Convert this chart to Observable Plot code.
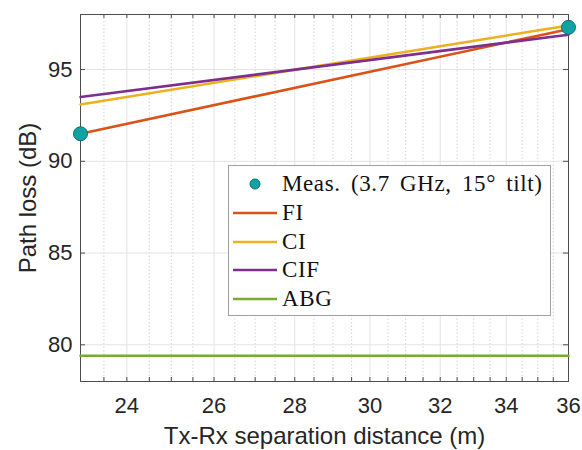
<!DOCTYPE html>
<html>
<head>
<meta charset="utf-8">
<script src="https://cdn.jsdelivr.net/npm/d3@7"></script>
<script src="https://cdn.jsdelivr.net/npm/@observablehq/plot@0.6"></script>
<style>
  html, body { margin: 0; padding: 0; background: #fff; }
  #wrap { position: relative; width: 582px; height: 450px; }
  #legend { position: absolute; left: 228px; top: 165px; width: 321px; height: 149px;
    background: #fff; border: 1px solid #a0a0a0; font-family: "Liberation Serif", serif;
    font-size: 23px; letter-spacing: 0.6px; word-spacing: 4px; color: #111; }
  .row { position: absolute; left: 0; height: 29px; display: flex; align-items: center; white-space: nowrap; }
  .row svg { margin-left: 4px; margin-right: 5px; }
</style>
</head>
<body>
<div id="wrap"></div>
<script>
// ---- data ----
const distance = [23, 36];
const measured = [91.5, 97.3];
const fiLoss = [91.5, 97.2];
const ciLoss = [93.1, 97.4];
const cifLoss = [93.5, 96.9];
const abgLoss = [79.4, 79.4];
const seriesNames = ["FI", "CI", "CIF", "ABG"];
const seriesColors = ["#D95319", "#EDB120", "#7E2F8E", "#77AC30"];
const measLabel = "Meas. (3.7 GHz, 15° tilt)";
const xTicks = [24, 26, 28, 30, 32, 34, 36];
const xMinor = [23.5, 24, 24.5, 25, 25.5, 26, 26.5, 27, 27.5, 28, 28.5, 29, 29.5, 30, 30.5, 31, 31.5, 32, 32.5, 33, 33.5, 34, 34.5, 35, 35.5];
const yTicks = [80, 85, 90, 95];

const seriesValues = [fiLoss, ciLoss, cifLoss, abgLoss];
const lineData = seriesNames.flatMap((name, i) =>
  distance.map((d, j) => ({name, d, loss: seriesValues[i][j]})));
const measData = distance.map((d, j) => ({d, loss: measured[j]}));

const axisColor = "#4d4d4d";
const textColor = "#262626";
const font = "'Liberation Sans', Arial, sans-serif";

const chart = Plot.plot({
  width: 582,
  height: 450,
  marginLeft: 80,
  marginRight: 14,
  marginTop: 14,
  marginBottom: 69,
  style: {fontFamily: font, color: textColor, background: "#fff"},
  x: {type: "log", domain: [23, 36]},
  y: {domain: [78, 98]},
  color: {domain: seriesNames, range: seriesColors},
  marks: [
    // minor dotted grid
    Plot.ruleX(xMinor.filter(v => !xTicks.includes(v)), {stroke: "#c8c8c8", strokeWidth: 0.8, strokeDasharray: "1.5,2"}),
    // major grid
    Plot.ruleX(xTicks, {stroke: "#e3e3e3", strokeWidth: 1}),
    Plot.ruleY(yTicks, {stroke: "#e3e3e3", strokeWidth: 1}),
    // inward ticks, bottom & top
    Plot.tickX(xMinor, {stroke: axisColor, insetTop: 367 - 4, strokeWidth: 1}),
    Plot.tickX(xMinor, {stroke: axisColor, insetBottom: 367 - 4, strokeWidth: 1}),
    Plot.tickY(yTicks, {stroke: axisColor, insetRight: 488 - 5, strokeWidth: 1}),
    Plot.tickY(yTicks, {stroke: axisColor, insetLeft: 488 - 5, strokeWidth: 1}),
    Plot.frame({stroke: axisColor, strokeWidth: 1}),
    // lines
    Plot.line(lineData, {x: "d", y: "loss", z: "name", stroke: "name", strokeWidth: 2.6}),
    Plot.dot(measData, {x: "d", y: "loss", r: 7, fill: "#10A3A3", stroke: "#0b7070", strokeWidth: 1}),
    // axes
    Plot.axisX({ticks: xTicks, tickSize: 0, tickPadding: 16, fontSize: 22, label: "Tx-Rx separation distance (m)", labelAnchor: "center", labelOffset: 62, labelArrow: "none", tickFormat: d => String(d)}),
    Plot.axisY({ticks: yTicks, tickSize: 0, tickPadding: 8, fontSize: 22, label: "Path loss (dB)", labelAnchor: "center", labelOffset: 62, labelArrow: "none"})
  ]
});
chart.querySelectorAll("g[aria-label='x-axis label'] text, g[aria-label='y-axis label'] text").forEach(t => t.setAttribute("font-size", "24"));
const wrap = document.getElementById("wrap");
wrap.appendChild(chart);

// legend
const legend = document.createElement("div");
legend.id = "legend";
const rowY = [3, 32, 61, 89, 118];
function addRow(top, symbol, label) {
  const row = document.createElement("div");
  row.className = "row";
  row.style.top = top + "px";
  row.innerHTML = `<svg width="44" height="12">${symbol}</svg><span>${label}</span>`;
  legend.appendChild(row);
}
addRow(rowY[0], `<circle cx="22" cy="6" r="5" fill="#10A3A3" stroke="#0b7070"/>`, measLabel);
seriesNames.forEach((n, i) => addRow(rowY[i + 1], `<line x1="0" x2="44" y1="6" y2="6" stroke="${seriesColors[i]}" stroke-width="2.6"/>`, n));
wrap.appendChild(legend);
</script>
</body>
</html>
